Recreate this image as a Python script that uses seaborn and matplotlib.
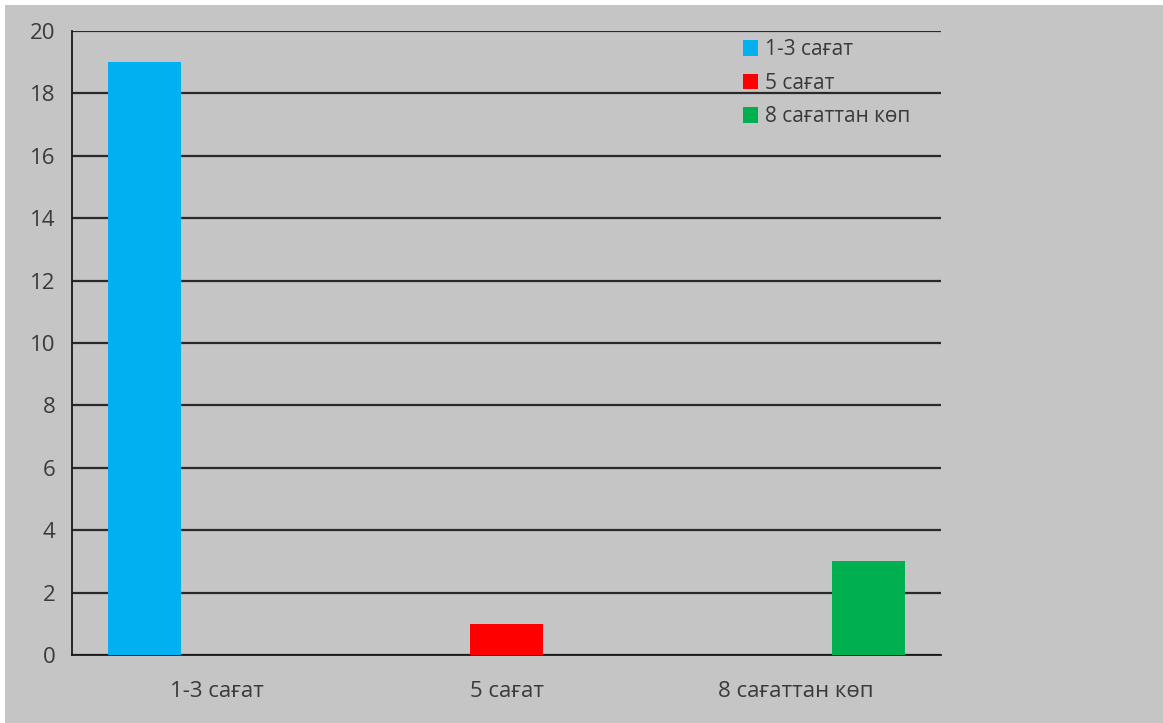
import matplotlib
matplotlib.use('Agg')
import matplotlib.pyplot as plt
import matplotlib.patches as mpatches
import seaborn as sns
import pandas as pd

# data
categories = ['1-3 сағат', '5 сағат', '8 сағаттан көп']
series = ['1-3 сағат', '5 сағат', '8 сағаттан көп']
values = [19, 1, 3]
colors = ['#00b0f0', '#ff0000', '#00b050']

df = pd.DataFrame({'Category': categories, 'Series': series, 'Value': values})

sns.set_style('white')
plt.rcParams['font.family'] = ['Open Sans', 'DejaVu Sans']

bg = '#c5c5c6'
txt = '#3a3a3a'

fig = plt.figure(figsize=(11.63, 7.23), dpi=100, facecolor='white')
# gray background with a thin white strip on top and left
fig.patches.append(mpatches.Rectangle((5 / 1163, 0), 1, 1 - 5 / 723, transform=fig.transFigure,
                                      facecolor=bg, edgecolor='none', zorder=-10))
ax = fig.add_axes([72 / 1163, 1 - 655 / 723, (941 - 72) / 1163, (655 - 31) / 723])
ax.set_facecolor(bg)

sns.barplot(data=df, x='Category', y='Value', hue='Series', hue_order=series, order=categories,
            palette=colors, width=0.75, dodge=True, saturation=1, linewidth=0,
            legend=False, ax=ax, zorder=3)

ax.set_ylim(0, 20)
ax.set_xlim(-0.5, 2.5)
ax.set_yticks(range(0, 21, 2))
ax.yaxis.grid(True, color='#2a2a2a', linewidth=1.6)
ax.set_axisbelow(True)
ax.set_xlabel('')
ax.set_ylabel('')

for side in ['top', 'right']:
    ax.spines[side].set_visible(False)
for side in ['left', 'bottom']:
    ax.spines[side].set_color('#1a1a1a')
    ax.spines[side].set_linewidth(1.3)

# category boundary ticks on the x axis
ax.set_xticks([-0.5, 0.5, 1.5, 2.5], minor=True)
ax.tick_params(axis='x', which='major', length=0, pad=19, labelsize=16, labelcolor=txt)
ax.tick_params(axis='x', which='minor', length=9, width=1.3, color='#1a1a1a', direction='out')
ax.tick_params(axis='y', length=10, width=1.3, color='#1a1a1a', labelsize=16, labelcolor=txt, pad=2)

handles = [mpatches.Patch(facecolor=c, edgecolor='none') for c in colors]
leg = ax.legend(handles, series, loc='upper left', bbox_to_anchor=(0.762, 1.0), frameon=False,
                fontsize=15, handlelength=0.75, handleheight=0.75, handletextpad=0.35,
                labelspacing=0.6, borderaxespad=0.0)
for t in leg.get_texts():
    t.set_color(txt)

fig.savefig('out.png', dpi=100, facecolor=fig.get_facecolor())
